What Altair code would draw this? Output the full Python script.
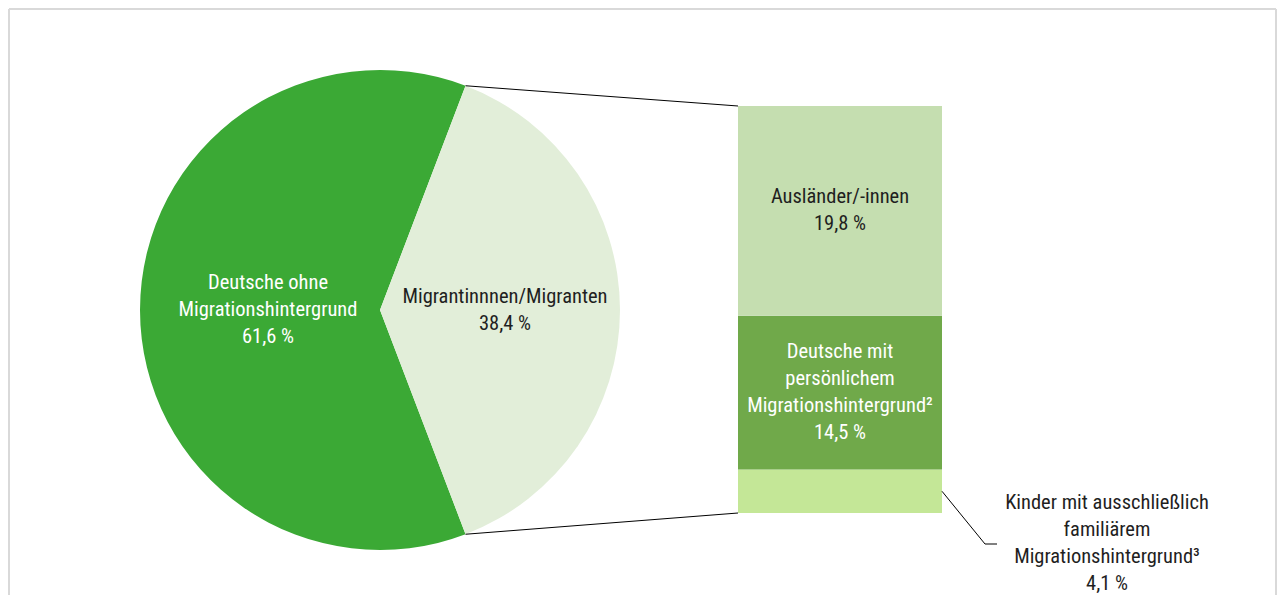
import math
import altair as alt
import pandas as pd

# ---------------- data ----------------
pie_names = ["Deutsche ohne Migrationshintergrund", "Migrantinnnen/Migranten"]
pie_labels = ["Deutsche ohne\nMigrationshintergrund\n61,6 %", "Migrantinnnen/Migranten\n38,4 %"]
pie_values = [61.6, 38.4]

bar_names = [
    "Kinder mit ausschließlich familiärem Migrationshintergrund",
    "Deutsche mit persönlichem Migrationshintergrund",
    "Ausländer/-innen",
]
bar_labels = [
    "Kinder mit ausschließlich\nfamiliärem\nMigrationshintergrund³\n4,1 %",
    "Deutsche mit\npersönlichem\nMigrationshintergrund²\n14,5 %",
    "Ausländer/-innen\n19,8 %",
]
bar_values = [4.1, 14.5, 19.8]

pie_colors = ["#3ba935", "#e2eed9"]
bar_colors = ["#c4e797", "#70a94a", "#c5deb0"]
pie_text_colors = ["#ffffff", "#1f1f1f"]
bar_text_colors = ["#1f1f1f", "#ffffff", "#1f1f1f"]

# ---------------- layout (page pixels; chart origin at page 8,8) ----------------
OFF = 8
W, H = 1269, 587
CX, CY, R = 380, 310, 240
BAR_X0, BAR_X1 = 738, 942
BAR_TOP, BAR_BOT = 106, 513
FONT = "Roboto Condensed"
FS = 20.5
LH = 27

total_pie = sum(pie_values)
frac = pie_values[1] / total_pie
start = math.pi / 2 + math.pi * frac  # light slice centred at 3 o'clock

pie_df = pd.DataFrame({
    "name": pie_names, "label": pie_labels, "value": pie_values,
    "order": list(range(len(pie_names))), "tc": pie_text_colors,
})
bar_df = pd.DataFrame({
    "name": bar_names, "label": bar_labels, "value": bar_values,
    "order": list(range(len(bar_names))), "tc": bar_text_colors,
})

def nlines(s):
    return s.count("\n") + 1

color_scale = alt.Scale(domain=pie_names + bar_names, range=pie_colors + bar_colors)
theta_enc = alt.Theta("value:Q", stack=True,
                      scale=alt.Scale(domain=[0, total_pie], range=[start, start + 2 * math.pi]))
cx_v = alt.value(CX - OFF)
cy_v = alt.value(CY - OFF)

arc = alt.Chart(pie_df).mark_arc(outerRadius=R, stroke=None).encode(
    theta=theta_enc,
    order=alt.Order("order:Q"),
    color=alt.Color("name:N", scale=color_scale, legend=None),
    x=cx_v, y=cy_v,
)

def pie_text(idx, radius):
    dy = -(nlines(pie_labels[idx]) - 1) * LH / 2
    return alt.Chart(pie_df).transform_calculate(
        t=f"datum.order == {idx} ? datum.label : ''"
    ).mark_text(radius=radius, lineBreak="\n", font=FONT, fontSize=FS, lineHeight=LH, dy=dy,
                align="center", baseline="middle", color=pie_text_colors[idx]).encode(
        theta=theta_enc,
        order=alt.Order("order:Q"),
        detail="name:N",
        text="t:N",
        x=cx_v, y=cy_v,
    )

pie_t0 = pie_text(0, 112)
pie_t1 = pie_text(1, 125)

total_bar = sum(bar_values)
yscale = alt.Scale(domain=[0, total_bar], range=[BAR_BOT - OFF, BAR_TOP - OFF])

bar_base = alt.Chart(bar_df).transform_stack(
    stack="value", groupby=[], as_=["v0", "v1"],
    sort=[alt.SortField("order", order="ascending")],
)
bars = bar_base.mark_rect().encode(
    x=alt.value(BAR_X0 - OFF), x2=alt.value(BAR_X1 - OFF),
    y=alt.Y("v0:Q", scale=yscale, axis=None), y2="v1:Q",
    color=alt.Color("name:N", scale=color_scale, legend=None),
)

def bar_text(idx):
    dy = -(nlines(bar_labels[idx]) - 1) * LH / 2
    return bar_base.transform_filter(f"datum.order == {idx}").transform_calculate(
        mid="(datum.v0 + datum.v1) / 2"
    ).mark_text(lineBreak="\n", font=FONT, fontSize=FS, lineHeight=LH, dy=dy,
                align="center", baseline="middle", color=bar_text_colors[idx]).encode(
        x=alt.value((BAR_X0 + BAR_X1) / 2 - OFF),
        y=alt.Y("mid:Q", scale=yscale, axis=None),
        text="label:N",
    )

bt1 = bar_text(1)
bt2 = bar_text(2)

kinder_label = alt.Chart(bar_df).transform_filter("datum.order == 0").mark_text(
    lineBreak="\n", font=FONT, fontSize=FS, lineHeight=LH, align="center",
    dy=-(nlines(bar_labels[0]) - 1) * LH / 2,
    baseline="middle", color=bar_text_colors[0]).encode(
    x=alt.value(1107 - OFF), y=alt.value(543 - OFF), text="label:N")

# connector lines derived from the pie angles and the bar extent
a1 = math.pi / 2 - math.pi * frac
a2 = math.pi / 2 + math.pi * frac
conn_df = pd.DataFrame({
    "x1": [CX + R * math.sin(a1) - OFF, CX + R * math.sin(a2) - OFF],
    "y1": [CY - R * math.cos(a1) - OFF, CY - R * math.cos(a2) - OFF],
    "x2": [BAR_X0 - OFF, BAR_X0 - OFF],
    "y2": [BAR_TOP - OFF, BAR_BOT - OFF],
})
conn = alt.Chart(conn_df).mark_rule(color="#000000", strokeWidth=1).encode(
    x=alt.X("x1:Q", scale=None, axis=None), y=alt.Y("y1:Q", scale=None, axis=None),
    x2="x2:Q", y2="y2:Q",
)

kmid = BAR_BOT - (bar_values[0] / 2) / total_bar * (BAR_BOT - BAR_TOP)
lead_df = pd.DataFrame({
    "px": [BAR_X1 - OFF, 985 - OFF, 997 - OFF],
    "py": [kmid - OFF, 544 - OFF, 544 - OFF],
    "i": [0, 1, 2],
})
leader = alt.Chart(lead_df).mark_line(color="#000000", strokeWidth=1).encode(
    x=alt.X("px:Q", scale=None, axis=None), y=alt.Y("py:Q", scale=None, axis=None),
    order="i:Q",
)

frame_col = "#d9d9d9"
fl = alt.Chart(pie_df).mark_rule(color=frame_col, strokeWidth=2).encode(
    x=alt.value(1), x2=alt.value(1), y=alt.value(1), y2=alt.value(H))
ft = alt.Chart(pie_df).mark_rule(color=frame_col, strokeWidth=2).encode(
    x=alt.value(1), x2=alt.value(W - 1), y=alt.value(1), y2=alt.value(1))
fr = alt.Chart(pie_df).mark_rule(color=frame_col, strokeWidth=2).encode(
    x=alt.value(W - 1), x2=alt.value(W - 1), y=alt.value(1), y2=alt.value(H))

chart = alt.layer(
    fl, ft, fr, arc, pie_t0, pie_t1, bars, bt1, bt2, conn, leader, kinder_label
).resolve_scale(x="independent", y="independent").properties(
    width=W, height=H, padding=0, autosize=alt.AutoSizeParams(type="none"),
    background="#ffffff",
).configure_view(stroke=None)

chart.save("out.html", embed_options={"renderer": "svg", "actions": False})
